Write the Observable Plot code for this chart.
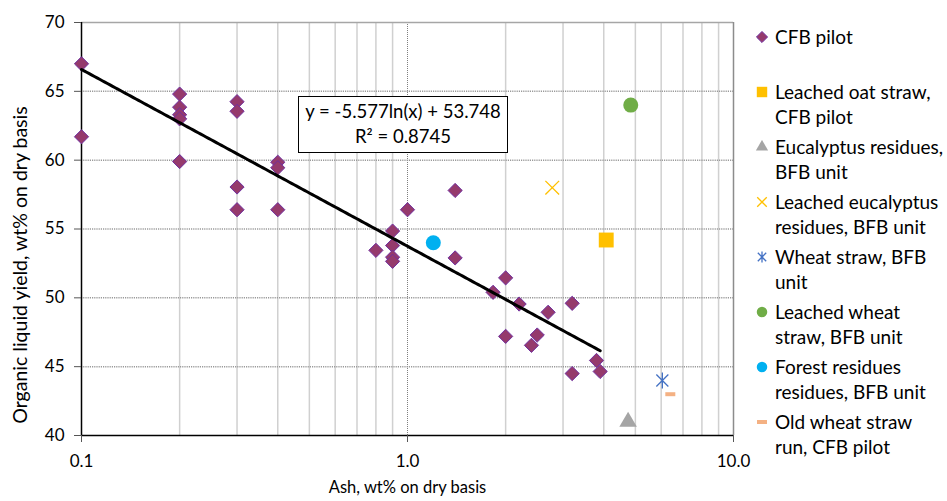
<!DOCTYPE html>
<html>
<head>
<meta charset="utf-8">
<script src="https://cdn.jsdelivr.net/npm/d3@7"></script>
<script src="https://cdn.jsdelivr.net/npm/@observablehq/plot@0.6"></script>
<style>
  html, body { margin: 0; padding: 0; background: #fff; }
  #wrap { position: relative; width: 947px; height: 501px; font-family: Lato, "Open Sans", sans-serif; }
  #eq { position: absolute; left: 298px; top: 96px; width: 208px; height: 53px; border: 1.5px solid #000; background: #fff;
        font-size: 18.5px; line-height: 25px; text-align: center; padding-top: 2px; box-sizing: content-box; white-space: nowrap; }
  #legend { position: absolute; left: 754px; top: 24px; font-size: 19px; line-height: 25px; color: #000; white-space: nowrap; }
  .item { display: flex; align-items: flex-start; height: 55px; }
  .item svg { flex: none; margin-top: 6px; margin-right: 5px; }
</style>
</head>
<body>
<div id="wrap">
  <div id="chart"></div>
  <div id="eq">y = -5.577ln(x) + 53.748<br>R² = 0.8745</div>
  <div id="legend"></div>
</div>
<script>
// ---- data ----
const cfbAsh   = [0.1, 0.1, 0.2, 0.2, 0.2, 0.2, 0.2, 0.3, 0.3, 0.3, 0.3, 0.4, 0.4, 0.4, 0.8, 0.9, 0.9, 0.9, 0.9, 1.0, 1.4, 1.4, 1.83, 2.0, 2.0, 2.2, 2.4, 2.5, 2.7, 3.2, 3.2, 3.8, 3.9];
const cfbYield = [67.0, 61.7, 64.8, 63.85, 63.3, 63.0, 59.9, 64.25, 63.55, 58.05, 56.4, 59.85, 59.45, 56.4, 53.45, 54.85, 53.8, 52.95, 52.65, 56.4, 57.8, 52.9, 50.4, 51.45, 47.2, 49.55, 46.55, 47.3, 48.95, 49.6, 44.5, 45.45, 44.65];

const seriesNames = [
  "Leached oat straw, CFB pilot",
  "Eucalyptus residues, BFB unit",
  "Leached eucalyptus residues, BFB unit",
  "Wheat straw, BFB unit",
  "Leached wheat straw, BFB unit",
  "Forest residues residues, BFB unit",
  "Old wheat straw run, CFB pilot"
];
const seriesAsh   = [4.07, 4.75, 2.78, 6.05, 4.84, 1.2, 6.4];
const seriesYield = [54.2, 41.0, 58.0, 44.0, 64.0, 54.0, 43.0];

const legendLines = [
  ["CFB pilot", ""],
  ["Leached oat straw,", "CFB pilot"],
  ["Eucalyptus residues,", "BFB unit"],
  ["Leached eucalyptus", "residues, BFB unit"],
  ["Wheat straw, BFB", "unit"],
  ["Leached wheat", "straw, BFB unit"],
  ["Forest residues", "residues, BFB unit"],
  ["Old wheat straw", "run, CFB pilot"]
];

// trend line coefficients (logarithmic fit shown in the chart)
const fitA = -5.577, fitB = 53.748, fitXMin = 0.1, fitXMax = 3.9;

const yTicks = [40, 45, 50, 55, 60, 65, 70];
const xTicks = [0.1, 1, 10];
const xMinor = [0.2, 0.3, 0.4, 0.5, 0.6, 0.7, 0.8, 0.9, 2, 3, 4, 5, 6, 7, 8, 9];

// ---- build tables ----
const cfb = cfbAsh.map((a, i) => ({ash: a, y: cfbYield[i]}));
const other = seriesNames.map((n, i) => ({name: n, ash: seriesAsh[i], y: seriesYield[i]}));
const trend = d3.range(0, 201).map(k => {
  const x = fitXMin * Math.pow(fitXMax / fitXMin, k / 200);
  return {ash: x, y: fitA * Math.log(x) + fitB};
});

const dashSymbol = { draw(ctx, size) { const w = 5, h = 2; ctx.moveTo(-w, -h); ctx.lineTo(w, -h); ctx.lineTo(w, h); ctx.lineTo(-w, h); ctx.closePath(); } };
const starSymbol = { draw(ctx, size) { const r = Math.sqrt(size / Math.PI); const u = r * 0.75;
  ctx.moveTo(-u, -u); ctx.lineTo(u, u); ctx.moveTo(-u, u); ctx.lineTo(u, -u); ctx.moveTo(0, -r); ctx.lineTo(0, r); } };

const styles = [
  {symbol: "square", fill: "#ffc000", stroke: "none", r: 8.4},
  {symbol: "triangle", fill: "#a5a5a5", stroke: "none", r: 6.5},
  {symbol: "times", fill: "none", stroke: "#ffc000", r: 6.3, sw: 1.3},
  {symbol: starSymbol, fill: "none", stroke: "#4472c4", r: 8, sw: 1.3},
  {symbol: "circle", fill: "#70ad47", stroke: "none", r: 7.5},
  {symbol: "circle", fill: "#00b0f0", stroke: "none", r: 7.5},
  {symbol: dashSymbol, fill: "#f4b183", stroke: "none", r: 5}
];

const font = "Lato, 'Open Sans', sans-serif";

const marks = [
  Plot.ruleX(xMinor, {stroke: "#d0d0d0", strokeWidth: 1.5}),
  Plot.ruleX([1], {stroke: "#7f7f7f", strokeWidth: 1, strokeDasharray: "1,1"}),
  Plot.ruleY(yTicks.filter(t => t > 40 && t < 70), {stroke: "#9a9a9a", strokeWidth: 1.5, strokeDasharray: "1.2,1"}),
  Plot.ruleY([70], {stroke: "#a6a6a6", strokeWidth: 1.5}),
  Plot.ruleX([10], {stroke: "#8c8c8c", strokeWidth: 1.5}),
  Plot.ruleY([40], {stroke: "#000", strokeWidth: 1.5}),
  Plot.ruleX([0.1], {stroke: "#000", strokeWidth: 1.5}),
  Plot.axisY({ticks: yTicks, tickSize: 7, tickPadding: 10, fontSize: 17, label: null, stroke: "#555", color: "#000"}),
  Plot.axisX({ticks: xTicks, tickSize: 7, tickPadding: 12, fontSize: 17, label: null, tickFormat: d3.format(".1f"), stroke: "#555"}),
  Plot.dot(cfb, {x: "ash", y: "y", symbol: "diamond2", r: 6.4, fill: "#953a6c", stroke: "#7030a0", strokeWidth: 1})
];
other.forEach((d, i) => {
  const s = styles[i];
  marks.push(Plot.dot([d], {x: "ash", y: "y", symbol: s.symbol, r: s.r, fill: s.fill, stroke: s.stroke, strokeWidth: s.sw || 1}));
});
marks.push(Plot.line(trend, {x: "ash", y: "y", stroke: "#000", strokeWidth: 3, curve: "linear"}));

const chart = Plot.plot({
  width: 947, height: 501,
  marginLeft: 81, marginRight: 214, marginTop: 22, marginBottom: 66,
  style: {fontFamily: font, fontSize: "17px", color: "#000", background: "#fff"},
  x: {type: "log", domain: [0.1, 10]},
  y: {domain: [40, 70]},
  marks: [
    ...marks,
    Plot.text(["Ash, wt% on dry basis"], {frameAnchor: "bottom", dy: 57, fontSize: 16.5, fill: "#000"}),
    Plot.text(["Organic liquid yield, wt% on dry basis"], {frameAnchor: "left", dx: -61, dy: 36, rotate: -90, textAnchor: "middle", fontSize: 19.5, fill: "#000"})
  ]
});
document.getElementById("chart").appendChild(chart);

// ---- legend ----
const legendStyles = [{symbol: "diamond2", fill: "#953a6c", stroke: "#7030a0", r: 5}, ...styles.map(s => ({...s, r: s.r * 0.7}))];
const leg = document.getElementById("legend");
legendLines.forEach((lines, i) => {
  const s = legendStyles[i];
  const item = document.createElement("div");
  item.className = "item";
  const sym = typeof s.symbol === "string" ? d3["symbol" + ({diamond2: "Diamond2", square: "Square", triangle: "Triangle", times: "Times", asterisk: "Asterisk", circle: "Circle"})[s.symbol]] : s.symbol;
  const size = Math.PI * s.r * s.r;
  const svg = d3.create("svg").attr("width", 16).attr("height", 14);
  svg.append("path").attr("transform", "translate(8,7)")
    .attr("d", d3.symbol(sym, size)())
    .attr("fill", s.fill).attr("stroke", s.stroke).attr("stroke-width", s.sw || 1);
  item.appendChild(svg.node());
  const t = document.createElement("div");
  t.innerHTML = lines[0] + "<br>" + lines[1];
  item.appendChild(t);
  leg.appendChild(item);
});
</script>
</body>
</html>
